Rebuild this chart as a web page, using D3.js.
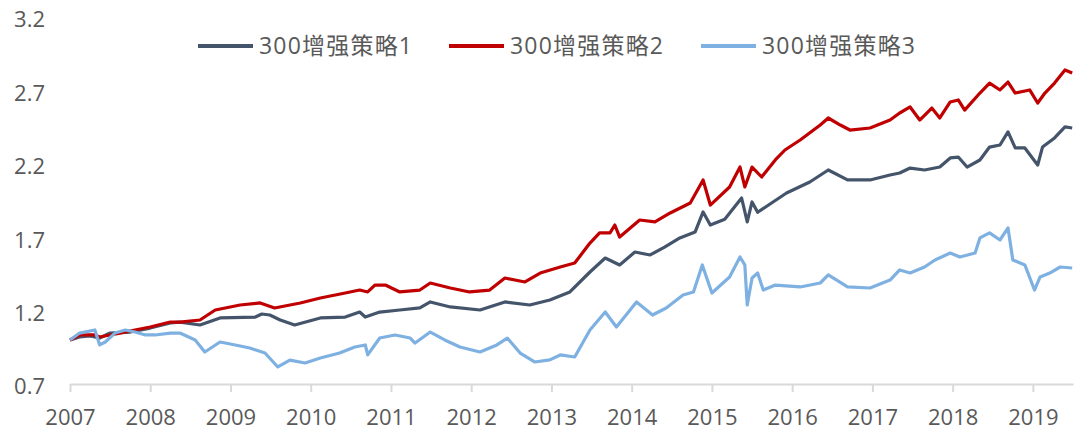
<!DOCTYPE html>
<html>
<head>
<meta charset="utf-8">
<script src="https://cdn.jsdelivr.net/npm/d3@7"></script>
<style>
  html, body { margin: 0; padding: 0; background: #ffffff; }
  svg { display: block; }
</style>
</head>
<body>
<svg id="chart" width="1089" height="438"></svg>
<script>
// ---- data (decimal years / values) ----
const seriesNames = ["300增强策略1", "300增强策略2", "300增强策略3"];
const yTicks = [0.7, 1.2, 1.7, 2.2, 2.7, 3.2];
const xTicks = [2007, 2008, 2009, 2010, 2011, 2012, 2013, 2014, 2015, 2016, 2017, 2018, 2019];

const s1Dates = [2007.00,2007.12,2007.25,2007.37,2007.50,2007.75,2008.00,2008.25,2008.37,2008.62,2008.87,2009.31,2009.39,2009.49,2009.62,2009.80,2010.12,2010.43,2010.61,2010.68,2010.86,2011.11,2011.36,2011.49,2011.74,2012.11,2012.42,2012.73,2012.98,2013.23,2013.48,2013.67,2013.85,2014.04,2014.23,2014.41,2014.60,2014.79,2014.89,2014.98,2015.16,2015.37,2015.44,2015.50,2015.57,2015.93,2016.22,2016.45,2016.69,2016.97,2017.22,2017.34,2017.47,2017.65,2017.84,2017.97,2018.07,2018.18,2018.34,2018.46,2018.59,2018.69,2018.78,2018.90,2019.06,2019.12,2019.27,2019.40,2019.49];
const s1Values = [1.000,1.020,1.027,1.013,1.047,1.054,1.081,1.116,1.122,1.102,1.150,1.156,1.177,1.170,1.136,1.102,1.150,1.156,1.190,1.156,1.190,1.204,1.218,1.259,1.225,1.204,1.259,1.238,1.272,1.327,1.463,1.558,1.511,1.599,1.579,1.633,1.695,1.735,1.872,1.783,1.822,1.967,1.804,1.940,1.870,2.001,2.076,2.158,2.090,2.090,2.124,2.137,2.171,2.158,2.178,2.240,2.246,2.178,2.226,2.314,2.328,2.417,2.308,2.308,2.192,2.314,2.376,2.451,2.444];

const s2Dates = [2007.00,2007.12,2007.31,2007.37,2007.50,2007.62,2007.81,2008.00,2008.25,2008.37,2008.62,2008.81,2009.12,2009.37,2009.55,2009.87,2010.12,2010.43,2010.61,2010.71,2010.80,2010.93,2011.11,2011.36,2011.49,2011.74,2011.98,2012.23,2012.42,2012.67,2012.86,2013.11,2013.29,2013.48,2013.60,2013.73,2013.79,2013.85,2014.10,2014.29,2014.48,2014.73,2014.89,2014.98,2015.22,2015.35,2015.41,2015.50,2015.62,2015.79,2015.91,2016.10,2016.35,2016.45,2016.60,2016.72,2016.97,2017.22,2017.34,2017.47,2017.59,2017.74,2017.84,2017.97,2018.07,2018.15,2018.34,2018.46,2018.59,2018.69,2018.78,2018.96,2019.06,2019.15,2019.27,2019.40,2019.49];
const s2Values = [1.000,1.034,1.034,1.020,1.034,1.047,1.068,1.088,1.122,1.122,1.136,1.204,1.238,1.252,1.218,1.252,1.286,1.320,1.340,1.327,1.374,1.374,1.327,1.340,1.388,1.354,1.327,1.340,1.422,1.395,1.456,1.497,1.524,1.660,1.729,1.729,1.783,1.701,1.817,1.804,1.865,1.933,2.090,1.919,2.042,2.178,2.042,2.178,2.110,2.226,2.294,2.362,2.464,2.512,2.464,2.430,2.444,2.498,2.546,2.587,2.498,2.580,2.512,2.621,2.635,2.566,2.682,2.750,2.703,2.757,2.682,2.703,2.614,2.682,2.750,2.839,2.819];

const s3Dates = [2007.00,2007.12,2007.31,2007.37,2007.44,2007.56,2007.69,2007.81,2007.94,2008.06,2008.25,2008.37,2008.56,2008.68,2008.87,2009.06,2009.24,2009.43,2009.59,2009.74,2009.93,2010.12,2010.36,2010.55,2010.68,2010.71,2010.86,2011.05,2011.24,2011.30,2011.49,2011.67,2011.86,2012.11,2012.32,2012.45,2012.61,2012.79,2012.98,2013.11,2013.29,2013.48,2013.67,2013.81,2014.06,2014.26,2014.43,2014.64,2014.77,2014.88,2015.00,2015.22,2015.35,2015.41,2015.44,2015.50,2015.57,2015.64,2015.79,2016.10,2016.35,2016.45,2016.69,2016.97,2017.22,2017.34,2017.47,2017.65,2017.78,2017.97,2018.09,2018.28,2018.34,2018.46,2018.59,2018.69,2018.75,2018.90,2019.02,2019.09,2019.21,2019.34,2019.49];
const s3Values = [1.000,1.047,1.068,0.966,0.986,1.047,1.068,1.054,1.034,1.034,1.047,1.047,1.000,0.918,0.986,0.966,0.945,0.911,0.816,0.863,0.843,0.877,0.911,0.952,0.966,0.898,1.013,1.034,1.013,0.979,1.054,1.000,0.952,0.918,0.966,1.013,0.911,0.850,0.864,0.898,0.884,1.068,1.190,1.088,1.259,1.170,1.218,1.306,1.327,1.511,1.320,1.429,1.565,1.511,1.238,1.422,1.456,1.340,1.374,1.361,1.388,1.443,1.361,1.354,1.408,1.477,1.456,1.497,1.545,1.592,1.565,1.592,1.695,1.729,1.681,1.763,1.545,1.511,1.340,1.429,1.456,1.497,1.490];

const seriesColors = ["#44546A", "#C00000", "#7EB1E1"];

// ---- layout ----
const svg = d3.select("#chart");
const x = d3.scaleLinear().domain([2007, 2019.5]).range([70, 1073]);
const y = d3.scaleLinear().domain([0.7, 3.2]).range([384, 17]);

const textColor = "#595959";
const font = "'Open Sans', 'Noto Sans CJK SC', sans-serif";

// x axis
const xAxis = d3.axisBottom(x).tickValues(xTicks).tickFormat(d3.format("d")).tickSize(8).tickSizeOuter(0);
const gx = svg.append("g").attr("transform", "translate(0,384)").call(xAxis);
gx.select(".domain").attr("stroke", "#d9d9d9").attr("stroke-width", 2);
gx.selectAll(".tick line").attr("stroke", "#d9d9d9").attr("stroke-width", 2);
gx.selectAll(".tick text").attr("fill", textColor).attr("font-size", 22)
  .attr("font-family", font).attr("y", 33).attr("dy", "0.35em");

// y axis (labels only)
const yAxis = d3.axisLeft(y).tickValues(yTicks).tickFormat(d3.format(".1f")).tickSize(0);
const gy = svg.append("g").attr("transform", "translate(45,0)").call(yAxis);
gy.select(".domain").remove();
gy.selectAll(".tick text").attr("fill", textColor).attr("font-size", 22)
  .attr("font-family", font).attr("x", 0).attr("dy", "0.45em");

// lines
const series = [
  { name: seriesNames[0], dates: s1Dates, values: s1Values, color: seriesColors[0] },
  { name: seriesNames[1], dates: s2Dates, values: s2Values, color: seriesColors[1] },
  { name: seriesNames[2], dates: s3Dates, values: s3Values, color: seriesColors[2] }
];
const line = d3.line().x(d => x(d[0])).y(d => y(d[1]));
series.forEach(s => {
  svg.append("path")
    .datum(s.dates.map((d, i) => [d, s.values[i]]))
    .attr("fill", "none")
    .attr("stroke", s.color)
    .attr("stroke-width", 3.2)
    .attr("stroke-linejoin", "round")
    .attr("d", line);
});

// legend
const legendX = [198, 449, 701];
const legend = svg.append("g");
series.forEach((s, i) => {
  const g = legend.append("g").attr("transform", `translate(${legendX[i]},46)`);
  g.append("line").attr("x1", 0).attr("x2", 55).attr("y1", 0).attr("y2", 0)
    .attr("stroke", s.color).attr("stroke-width", 4);
  g.append("text").attr("x", 61).attr("y", 0).attr("dy", "0.36em")
    .attr("fill", textColor).attr("font-size", 23).attr("font-family", font)
    .attr("letter-spacing", 1.2)
    .text(s.name);
});
</script>
</body>
</html>
